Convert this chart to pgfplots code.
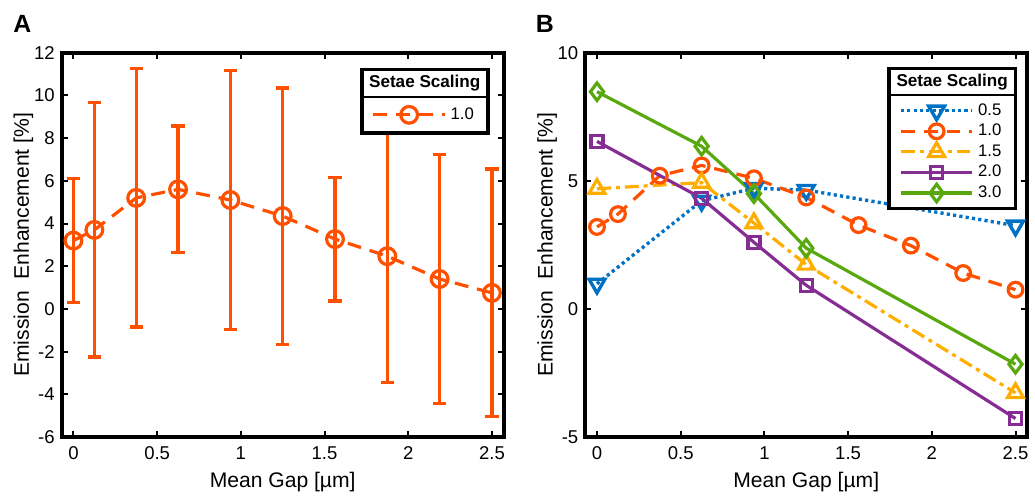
\documentclass[border=0pt]{standalone}
\usepackage{fontspec}
\setmainfont{Liberation Sans}
\usepackage{pgfplots}
\pgfplotsset{compat=1.18}
\usetikzlibrary{calc}

\definecolor{cblue}{HTML}{0072C6}
\definecolor{cred}{HTML}{FF5000}
\definecolor{cyel}{HTML}{FFAE00}
\definecolor{cpur}{HTML}{862D93}
\definecolor{cgrn}{HTML}{58A80E}

\pgfplotsset{
  panel/.style={
    scale only axis, width=222pt, height=193pt,
    xmin=-0.07, xmax=2.57,
    xtick={0,0.5,1,1.5,2,2.5},
    tick align=inside, xtick pos=both, ytick pos=both,
    major tick length=3pt,
    axis line style={line width=2pt},
    tick style={line width=1pt, black},
    /pgf/number format/assume math mode=true,
    every tick label/.append style={font=\fontsize{9.3}{11}\selectfont},
    xticklabel style={yshift=-1.5pt},
    label style={font=\fontsize{10.6}{12}\selectfont},
    xlabel={Mean Gap [µm]},
    ylabel={Emission\ \ Enhancement [\%]},
    xlabel style={yshift=1pt},
    ylabel style={yshift=-6.5pt},
    legend image code/.code={
      \draw[mark repeat=2, mark phase=2, #1] plot coordinates {(0pt,0pt) (18pt,0pt) (36pt,0pt)};},
    legend cell align=left,
  },
  leg/.style={legend style={at={(rel axis cs:#1)}, anchor=north east, draw=none, fill=white,
    outer sep=0pt, inner xsep=5pt, font=\fontsize{8.4}{9.5}\selectfont, row sep=-1pt}},
}

\begin{document}
\begin{tikzpicture}
\path (0,0) rectangle (517.5pt,245.5pt);

% ---------- panel A ----------
\begin{axis}[panel, at={(31pt,26pt)}, anchor=south west,
  ymin=-6, ymax=12, ytick={-6,-4,...,12},
  leg={0.964,0.886}, legend style={name=legA, inner ysep=3.5pt}]
\addplot[cred, line width=1.6pt, dash pattern=on 7pt off 4.5pt,
  mark=o, mark size=4.2pt, mark options={solid},
  error bars/.cd, y dir=both, y explicit,
  error bar style={solid, line width=1.6pt},
  error mark options={rotate=90, mark size=3.3pt, line width=1.6pt}]
  coordinates {
  (0,3.2)      +- (0,2.9)
  (0.125,3.7)  +- (0,5.95)
  (0.375,5.2)  +- (0,6.05)
  (0.625,5.6)  +- (0,2.97)
  (0.9375,5.1) +- (0,6.05)
  (1.25,4.35)  +- (0,6.0)
  (1.5625,3.27)+- (0,2.9)
  (1.875,2.47) +- (0,5.92)
  (2.1875,1.4) +- (0,5.85)
  (2.5,0.75)   +- (0,5.8)
  };
\addlegendentry{1.0}
\end{axis}

% ---------- panel B ----------
\begin{axis}[panel, at={(294pt,26pt)}, anchor=south west,
  ymin=-5, ymax=10, ytick={-5,0,5,10},
  leg={0.973,0.889}, legend style={name=legB}]
\addplot[cblue, line width=1.7pt, dash pattern=on 1.6pt off 1.6pt,
  mark=triangle, mark size=4.6pt, mark options={solid, rotate=180}]
  coordinates {(0,0.98) (0.625,4.22) (0.9375,4.71) (1.25,4.64) (2.5,3.25)};
\addlegendentry{0.5}
\addplot[cred, line width=1.6pt, dash pattern=on 7pt off 4.5pt,
  mark=o, mark size=3.7pt, mark options={solid}]
  coordinates {(0,3.2) (0.125,3.7) (0.375,5.2) (0.625,5.6) (0.9375,5.1)
    (1.25,4.35) (1.5625,3.27) (1.875,2.47) (2.1875,1.4) (2.5,0.75)};
\addlegendentry{1.0}
\addplot[cyel, line width=1.6pt, dash pattern=on 7pt off 2.5pt on 2pt off 2.5pt,
  mark=triangle, mark size=4.6pt, mark options={solid}]
  coordinates {(0,4.69) (0.625,4.93) (0.9375,3.35) (1.25,1.73) (2.5,-3.28)};
\addlegendentry{1.5}
\addplot[cpur, line width=1.6pt,
  mark=square, mark size=3pt, mark options={solid}]
  coordinates {(0,6.54) (0.625,4.32) (0.9375,2.6) (1.25,0.92) (2.5,-4.28)};
\addlegendentry{2.0}
\addplot[cgrn, line width=1.6pt,
  mark=diamond, mark size=4.4pt, mark options={solid}]
  coordinates {(0,8.48) (0.625,6.35) (0.9375,4.5) (1.25,2.37) (2.5,-2.16)};
\addlegendentry{3.0}
\end{axis}

% legend titles and frames
\foreach \L in {legA,legB}{
  \path let \p1=(\L.south west), \p2=(\L.north east) in
    node[fill=white, anchor=south west, minimum width=\x2-\x1, minimum height=13.5pt,
      inner sep=0pt, outer sep=0pt, font=\bfseries\fontsize{8.6}{10}\selectfont]
      (t\L) at (\L.north west) {Setae Scaling};
  \draw[line width=1.8pt] (t\L.north west) rectangle (\L.south east);
  \draw[line width=1pt] (\L.north west) -- (\L.north east);
}

\node[anchor=north west, inner sep=0pt, font=\bfseries\fontsize{12.5}{14}\selectfont] at (6.5pt,238pt) {A};
\node[anchor=north west, inner sep=0pt, font=\bfseries\fontsize{12.5}{14}\selectfont] at (269pt,238pt) {B};
\end{tikzpicture}
\end{document}
